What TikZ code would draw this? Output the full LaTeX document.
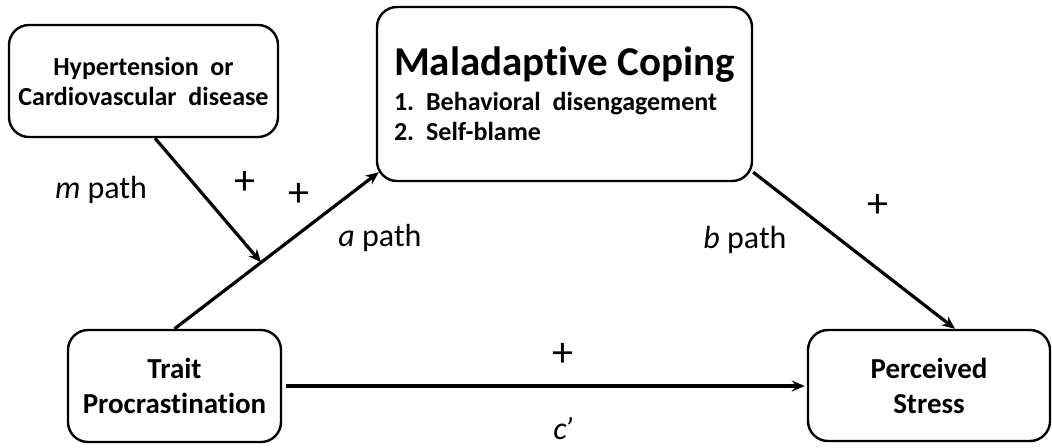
\documentclass[tikz,border=0pt]{standalone}
\usepackage{fontspec}
\setmainfont[Ligatures=NoCommon]{Carlito}
\usetikzlibrary{arrows.meta, positioning, calc}

\begin{document}
\begin{tikzpicture}[x=0.5pt, y=-0.5pt,
  varbox/.style={draw, line width=1.2pt, rounded corners=10pt, inner sep=0pt},
  effect/.style={line width=1.6pt, -{Stealth[length=6.5pt, width=5.5pt]}},
  lbl/.style={font=\fontsize{16}{19}\selectfont},
  sign/.style={font=\fontsize{21}{24}\selectfont}]
  \useasboundingbox (0,0) rectangle (1052,447);

  % variables
  \node[varbox, minimum width=134.5pt, minimum height=56pt, align=center,
        font=\bfseries\fontsize{13}{15}\selectfont] (hyp) at (143.5,81)
        {Hypertension\ \ or\\Cardiovascular\ \ disease};
  \node[varbox, minimum width=187.5pt, minimum height=87pt, align=left,
        font=\bfseries\fontsize{13}{15}\selectfont] (cope) at (564.5,94)
        {{\fontsize{20.5}{24}\selectfont Maladaptive Coping}\\[2.5pt]
         1.\hspace{6pt}Behavioral\ \ disengagement\\
         2.\hspace{6pt}Self-blame};
  \node[varbox, minimum width=106.5pt, minimum height=56pt, align=center,
        font=\bfseries\fontsize{14.5}{17.5}\selectfont] (trait) at (174.5,386)
        {Trait\\Procrastination};
  \node[varbox, minimum width=121pt, minimum height=55.5pt, align=center,
        font=\bfseries\fontsize{14.5}{17.5}\selectfont] (stress) at (929,385.5)
        {Perceived\\Stress};

  % paths
  \coordinate (aend) at ($(cope.south west)+(3,-10)$);
  \coordinate (mstart) at ($(hyp.south)+(11.5,0)$);
  \coordinate (bstart) at ($(cope.south east)+(0,-10)$);
  \coordinate (bend) at ($(stress.north)+(26,0)$);
  \draw[effect] (trait.north) -- coordinate[pos=0.424] (amid) (aend);
  \draw[effect] (mstart) -- (amid);
  \draw[effect] (bstart) -- (bend);
  \draw[effect, shorten <=2pt, shorten >=1pt] (trait.east) -- (trait.east -| stress.west);

  % labels
  \node[lbl] (mlab) at (101,190) {\textit{m} path};
  \node[sign] (mplus) at (245,183) {+};
  \node[sign] (aplus) at (299,195) {+};
  \node[lbl] (alab) at (380,238) {\textit{a} path};
  \node[lbl] (blab) at (745,240) {\textit{b} path};
  \node[sign] (bplus) at (878,206) {+};
  \node[sign] (cplus) at (563,355) {+};
  \node[lbl] (clab) at (563,428) {\textit{c\kern-1pt’}};
\end{tikzpicture}
\end{document}
